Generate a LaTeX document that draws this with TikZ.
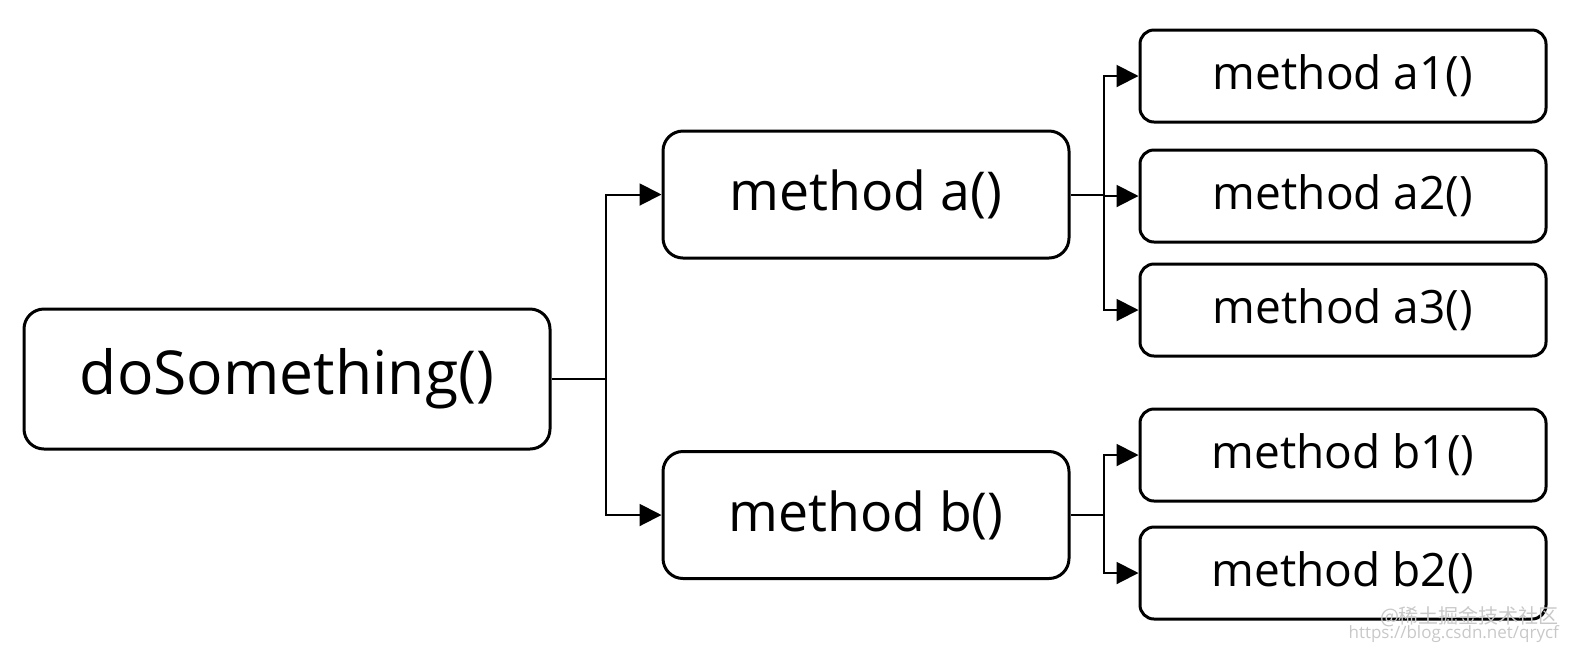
\documentclass[tikz,border=0pt]{standalone}
\usepackage{fontspec}
\setmainfont{Open Sans}
\newfontfamily\cjkfont{Noto Sans CJK SC}
\usepackage{xcolor}
\usepackage{tikz}
\usetikzlibrary{shapes,arrows.meta,positioning,calc}
\definecolor{markgray}{RGB}{200, 200, 200}

\tikzset{
    callbox/.style={draw=black, line width=1.5pt, rounded corners=10pt, inner sep=0pt},
    link/.style={draw=black, line width=1pt},
    arr/.style={link, -{Triangle[length=11pt, width=11pt]}}
}

\begin{document}
\begin{tikzpicture}[x=0.5pt, y=-0.5pt]
    \useasboundingbox (0,0) rectangle (1574,650);
    % caller
    \node[callbox, minimum width=263pt, minimum height=70pt, font=\fontsize{30.3}{36}\selectfont] (do) at (287,379) {doSomething()};
    % first level
    \node[callbox, minimum width=203pt, minimum height=63.5pt, font=\fontsize{26.8}{32}\selectfont] (ma) at (866,194.5) {method a()};
    \node[callbox, minimum width=203pt, minimum height=63.5pt, font=\fontsize{26.8}{32}\selectfont] (mb) at (866,515) {method b()};
    % second level
    \node[callbox, rounded corners=7pt, minimum width=203pt, minimum height=46pt, font=\fontsize{23}{28}\selectfont] (ma1) at (1343,76) {method a1()};
    \node[callbox, rounded corners=7pt, minimum width=203pt, minimum height=46pt, font=\fontsize{23}{28}\selectfont] (ma2) at (1343,196) {method a2()};
    \node[callbox, rounded corners=7pt, minimum width=203pt, minimum height=46pt, font=\fontsize{23}{28}\selectfont] (ma3) at (1343,310) {method a3()};
    \node[callbox, rounded corners=7pt, minimum width=203pt, minimum height=46pt, font=\fontsize{23}{28}\selectfont] (mb1) at (1343,455) {method b1()};
    \node[callbox, rounded corners=7pt, minimum width=203pt, minimum height=46pt, font=\fontsize{23}{28}\selectfont] (mb2) at (1343,573) {method b2()};

    % junctions
    \coordinate (j0) at (606,379);
    \coordinate (ja) at (1104,194.5);
    \coordinate (jb) at (1104,515);

    \draw[link] (do.east) -- (j0);
    \draw[arr] (j0) |- (ma.west);
    \draw[arr] (j0) |- (mb.west);

    \draw[link] (ma.east) -- (ja);
    \draw[arr] (ja) |- (ma1.west);
    \draw[arr] (ja) |- (ma2.west);
    \draw[arr] (ja) |- (ma3.west);

    \draw[link] (mb.east) -- (jb);
    \draw[arr] (jb) |- (mb1.west);
    \draw[arr] (jb) |- (mb2.west);

    % watermark
    \node[text=markgray, anchor=east, font=\cjkfont\fontsize{10}{12}\selectfont] (wm1) at (1566,617) {@稀土掘金技术社区};
    \node[text=markgray, anchor=east, font=\fontsize{8.5}{10}\selectfont] (wm2) at (1566,634) {https://blog.csdn.net/qrycf};
\end{tikzpicture}
\end{document}
